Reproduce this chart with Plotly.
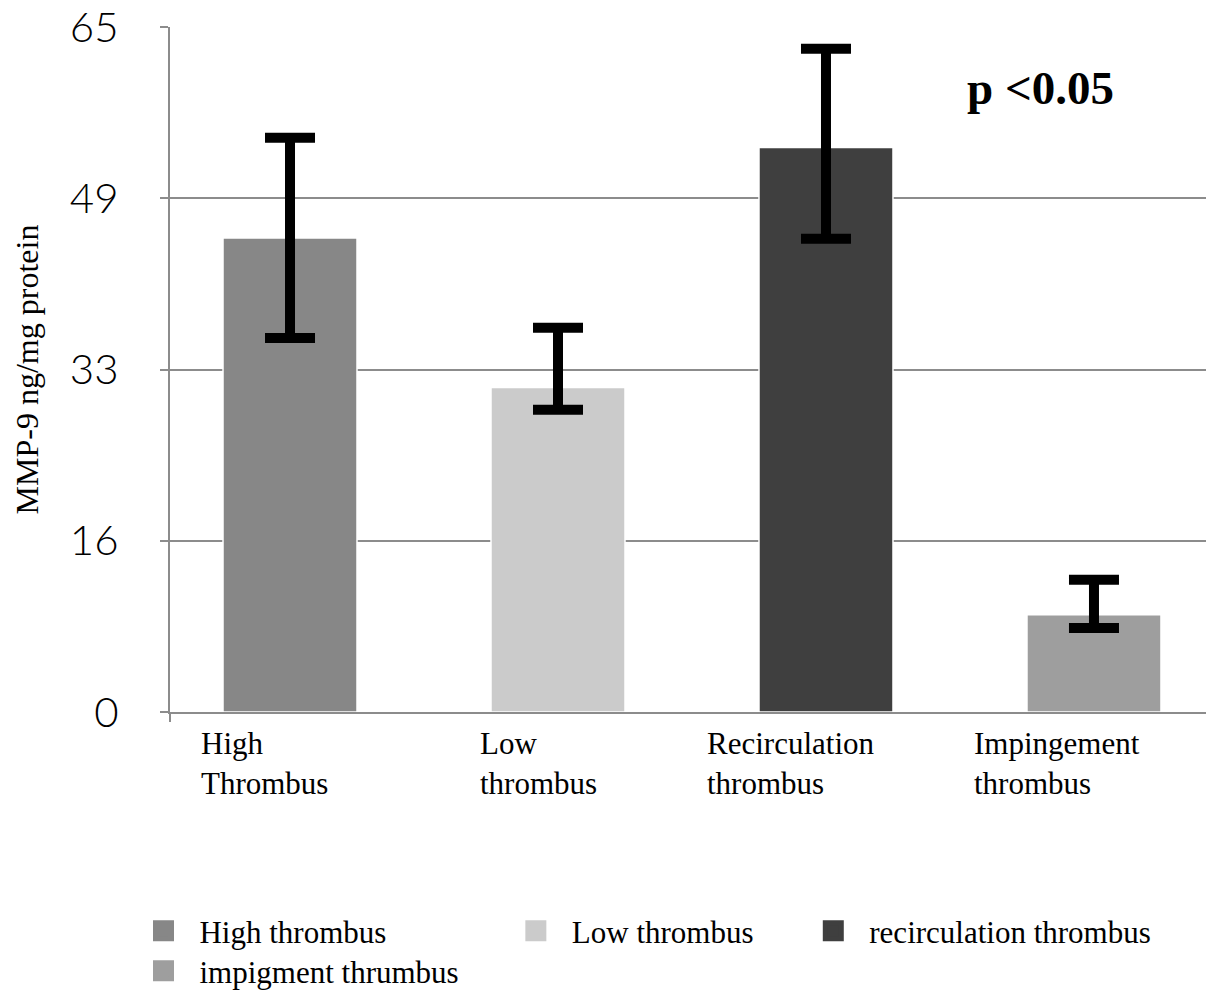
import plotly.graph_objects as go

# ---- data ----
categories = ["High<br>Thrombus", "Low<br>thrombus", "Recirculation<br>thrombus", "Impingement<br>thrombus"]
legend_names = ["High thrombus", "Low thrombus", "recirculation thrombus", "impigment thrumbus"]
values = [44.97, 30.80, 53.57, 9.23]
err_plus = [9.52, 5.66, 9.36, 3.32]
err_minus = [9.49, 2.12, 8.67, 1.26]
bar_colors = ["#878787", "#cbcbcb", "#3f3f3f", "#9e9e9e"]
y_tickvals = [0, 16.25, 32.5, 48.75, 65]
y_ticktext = ["0", "16", "33", "49", "65"]
label_offsets = [-0.34, -0.30, -0.45, -0.455]   # left edge of category labels relative to bar centre
legend_pad = [14, 5, 0, 0]                        # trailing non-breaking spaces to space legend columns
legend_rows = ["legend", "legend", "legend", "legend2"]

xs = list(range(len(values)))
serif = "Liberation Serif, Times New Roman, serif"
grid_col = "#8c8c8c"

fig = go.Figure()
fig.add_trace(go.Bar(
    x=xs, y=values, width=0.5,
    marker=dict(color=bar_colors, line=dict(color="white", width=1.5)),
    error_y=dict(type="data", symmetric=False, array=err_plus, arrayminus=err_minus,
                 color="black", thickness=10, width=25),
    showlegend=False,
))
for name, col, pad, lg in zip(legend_names, bar_colors, legend_pad, legend_rows):
    fig.add_trace(go.Scatter(
        x=[None], y=[None], mode="markers", name=name + "\u00a0" * pad, legend=lg,
        marker=dict(symbol="square", size=16, color=col, line=dict(color=col, width=5)),
    ))

for x, lab, off in zip(xs, categories, label_offsets):
    fig.add_annotation(x=x + off, xref="x", y=0, yref="paper", yanchor="top", xanchor="left",
                       align="left", text=lab, showarrow=False, yshift=-12,
                       font=dict(family=serif, size=31, color="black"))

fig.add_annotation(x=0.8407, y=0.911, xref="paper", yref="paper", text="<b>p <0.05</b>",
                   xanchor="center", yanchor="middle",
                   showarrow=False, font=dict(family=serif, size=47, color="black"))

legend_common = dict(orientation="h", xref="container", yref="container",
                     x=0.1057, xanchor="left", yanchor="top", itemwidth=62,
                     bgcolor="rgba(0,0,0,0)",
                     font=dict(family=serif, size=31, color="black"), tracegroupgap=0)

fig.update_layout(
    width=1206, height=992,
    margin=dict(l=170, r=0, t=27, b=280),
    plot_bgcolor="white", paper_bgcolor="white",
    xaxis=dict(range=[-0.4478, 3.418], showgrid=False, zeroline=False,
               showline=True, linecolor=grid_col, linewidth=2,
               tickvals=[-0.447], ticks="outside", ticklen=8, tickcolor=grid_col, tickwidth=2,
               showticklabels=False, fixedrange=True),
    yaxis=dict(range=[0, 65], tickvals=y_tickvals, ticktext=y_ticktext,
               showgrid=True, gridcolor=grid_col, gridwidth=2, zeroline=False,
               showline=True, linecolor=grid_col, linewidth=2,
               ticks="outside", ticklen=8, tickcolor=grid_col, tickwidth=2,
               ticklabelstandoff=33,
               tickfont=dict(family="Lato, Open Sans, sans-serif", size=42, color="black", weight=300),
               title=dict(text="MMP-9 ng/mg protein", standoff=22,
                          font=dict(family=serif, size=32, color="black"))),
    legend=dict(y=1 - 904 / 992, **legend_common),
    legend2=dict(y=1 - 944 / 992, **legend_common),
    showlegend=True,
)

fig.write_html("out.html")
